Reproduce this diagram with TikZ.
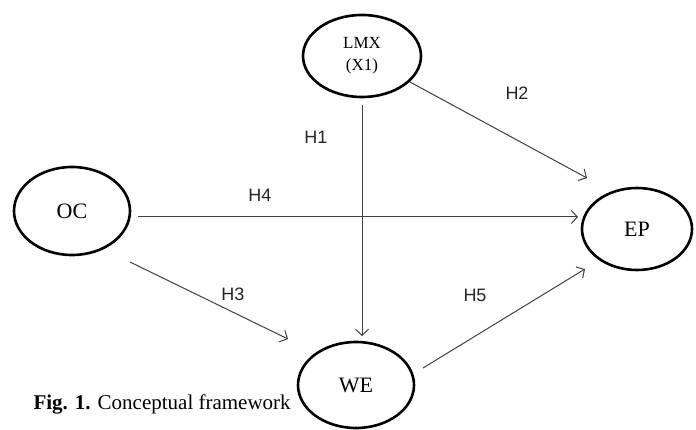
\documentclass[tikz,border=0pt]{standalone}
\usepackage{fontspec}
\setmainfont{Liberation Serif}
\newfontfamily\labfont{Liberation Sans}
\usetikzlibrary{arrows.meta,shapes.geometric}
\begin{document}
\begin{tikzpicture}[x=1pt,y=-1pt,
  var/.style={draw=black,line width=2.6pt,ellipse,inner sep=0pt},
  conn/.style={draw=black!75,line width=1pt,-{Straight Barb[length=6pt,width=13pt,line width=1pt]}},
  hyp/.style={font=\labfont\fontsize{18}{22}\selectfont,text=black!85},
  lbl/.style={font=\fontsize{22}{26}\selectfont}]
\useasboundingbox (0,0) rectangle (696,430);
\node[var,minimum width=118pt,minimum height=82pt,align=center,font=\fontsize{17}{22}\selectfont] (lmx) at (362,56) {LMX\\(X1)};
\node[var,minimum width=116pt,minimum height=88pt,lbl] (oc) at (72,211) {OC};
\node[var,minimum width=110pt,minimum height=82pt,lbl] (ep) at (637,229) {EP};
\node[var,minimum width=116pt,minimum height=86pt,lbl] (we) at (356,385) {WE};
\coordinate (lmxb) at (362,105);
\coordinate (wet) at (362,336);
\coordinate (ep1) at (587,178);
\coordinate (oc1) at (138,217);
\coordinate (ep2) at (578,217);
\coordinate (oc2) at (130,262);
\coordinate (we1) at (288,339);
\coordinate (we2) at (423,368);
\coordinate (ep3) at (585,269);
\draw[conn] (lmx) -- (ep1);
\draw[conn] (lmxb) -- (wet);
\draw[conn] (oc1) -- (ep2);
\draw[conn] (oc2) -- (we1);
\draw[conn] (we2) -- (ep3);
\node[hyp] (h1) at (316,137) {H1};
\node[hyp] (h2) at (517,93) {H2};
\node[hyp] (h4) at (260,195) {H4};
\node[hyp] (h3) at (233,294) {H3};
\node[hyp] (h5) at (475,295) {H5};
\node[anchor=west,font=\fontsize{21}{24}\selectfont] (cap) at (30,404) {\textbf{Fig. 1.} Conceptual framework};
\end{tikzpicture}
\end{document}
